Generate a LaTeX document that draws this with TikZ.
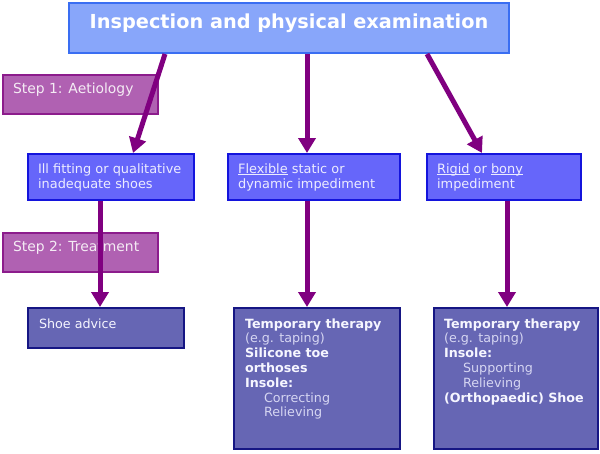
\documentclass[tikz,border=0pt]{standalone}
\usepackage{fontspec}
\setmainfont{DejaVu Sans}
\usepackage{xcolor}
\usepackage{tikz}
\usetikzlibrary{arrows.meta}
\definecolor{headfill}{HTML}{88A6FA}
\definecolor{headline}{HTML}{3A6EF2}
\definecolor{causefill}{HTML}{6666FA}
\definecolor{causeline}{HTML}{1414DC}
\definecolor{causetext}{HTML}{ECECFF}
\definecolor{treatfill}{HTML}{6666B4}
\definecolor{treatline}{HTML}{161684}
\definecolor{treattext}{HTML}{F6F6FF}
\definecolor{treatsoft}{HTML}{D6D6F2}
\definecolor{stepfill}{HTML}{B061B2}
\definecolor{stepline}{HTML}{8C1C8C}
\definecolor{steptext}{HTML}{F4ECF4}
\definecolor{flowpurple}{HTML}{800080}

% text block: width, height, first baseline, contents
\newcommand{\boxtext}[4]{\parbox[t][#2][t]{#1}{\rule{0pt}{#3}#4}}
% underline close to the baseline
\newsavebox{\uwordbox}
\newcommand{\uword}[1]{\sbox{\uwordbox}{#1}\rlap{\rule[-1.8pt]{\wd\uwordbox}{0.6pt}}\usebox{\uwordbox}}

\begin{document}
\begin{tikzpicture}[
  x=1pt, y=-1pt,
  head/.style={
    rectangle, draw=headline, fill=headfill, line width=2pt,
    anchor=north west, inner xsep=0pt, inner ysep=0pt,
    text=white, font=\fontsize{19.3}{22}\selectfont\bfseries
  },
  stepbox/.style={
    rectangle, draw=stepline, fill=stepfill, line width=2pt,
    anchor=north west, inner xsep=10pt, inner ysep=0pt,
    text=steptext, font=\fontsize{13.9}{16}\selectfont
  },
  cause/.style={
    rectangle, draw=causeline, fill=causefill, line width=2.2pt,
    anchor=north west, inner xsep=10pt, inner ysep=0pt,
    text=causetext, font=\fontsize{12.9}{15}\selectfont
  },
  treat/.style={
    rectangle, draw=treatline, fill=treatfill, line width=2.2pt,
    anchor=north west, inner xsep=11pt, inner ysep=0pt,
    text=treatsoft, font=\fontsize{12.7}{14.8}\selectfont
  },
  flow/.style={
    draw=flowpurple, line width=5pt,
    -{Triangle[width=17pt,length=15pt]}
  },
]
\useasboundingbox (0,0) rectangle (600,453);

% Steps
\node[stepbox] (step1) at (2,74) {\boxtext{135pt}{39pt}{18pt}{Step 1: Aetiology}};
\node[stepbox] (step2) at (2,232) {\boxtext{135pt}{39pt}{18pt}{Step 2: Treatment}};

% Inspection
\node[head] (exam) at (68,2) {\boxtext{440pt}{50pt}{25pt}{\centering Inspection and physical examination}};

% Aetiology
\node[cause] (shoes) at (27,153) {\boxtext{146pt}{46pt}{19pt}{Ill fitting or qualitative\\inadequate shoes}};
\node[cause] (flexible) at (227,153) {\boxtext{152pt}{46pt}{19pt}{\uword{Flexible} static or\\dynamic impediment}};
\node[cause] (rigid) at (426,153) {\boxtext{134pt}{46pt}{19pt}{\uword{Rigid} or \uword{bony}\\impediment}};

% Treatment
\node[treat] (advice) at (27,307) {\boxtext{134pt}{40pt}{20pt}{\color{treattext}Shoe advice}};
\node[treat] (therapy1) at (233,307) {\boxtext{144pt}{141pt}{20pt}{%
  {\color{treattext}\bfseries Temporary therapy}\\
  (e.g. taping)\\
  {\color{treattext}\bfseries Silicone toe}\\
  {\color{treattext}\bfseries orthoses}\\
  {\color{treattext}\bfseries Insole:}\\
  \hspace*{19pt}Correcting\\
  \hspace*{19pt}Relieving}};
\node[treat, inner xsep=10pt] (therapy2) at (433,307) {\boxtext{144pt}{141pt}{20pt}{%
  {\color{treattext}\bfseries Temporary therapy}\\
  (e.g. taping)\\
  {\color{treattext}\bfseries Insole:}\\
  \hspace*{19pt}Supporting\\
  \hspace*{19pt}Relieving\\
  {\color{treattext}\bfseries (Orthopaedic) Shoe}}};

% Arrows
\draw[flow] ([xshift=97pt]exam.south west) -- ([xshift=106pt]shoes.north west);
\draw[flow] ([xshift=239pt]exam.south west) -- ([xshift=80pt]flexible.north west);
\draw[flow] ([xshift=359pt]exam.south west) -- ([xshift=56pt]rigid.north west);
\draw[flow] ([xshift=73pt]shoes.south west) -- ([xshift=73pt]advice.north west);
\draw[flow] ([xshift=80pt]flexible.south west) -- ([xshift=74pt]therapy1.north west);
\draw[flow] ([xshift=81pt]rigid.south west) -- ([xshift=74pt]therapy2.north west);

\end{tikzpicture}
\end{document}
